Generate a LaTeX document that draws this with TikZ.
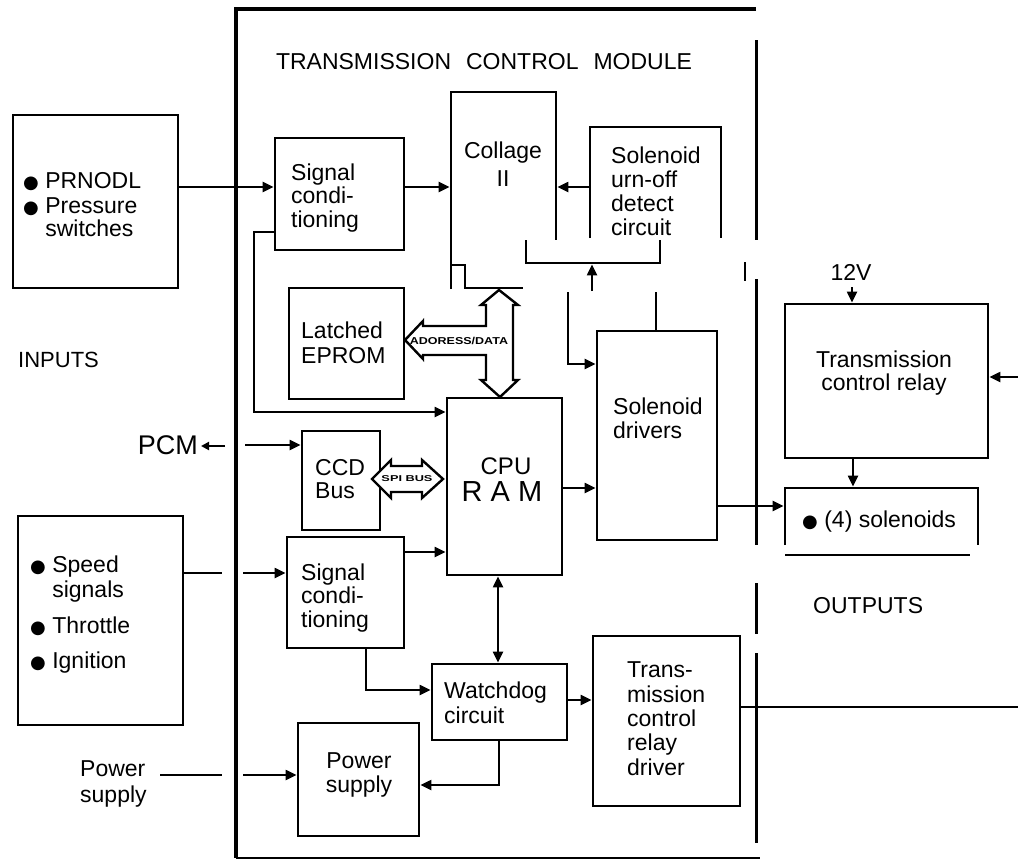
\documentclass[tikz,border=0pt]{standalone}
\usepackage{fontspec}
\setmainfont{Liberation Sans}
\newfontfamily\dejavu{DejaVu Sans}
\usetikzlibrary{arrows.meta}
\newcommand\bul{{\dejavu\fontsize{18}{18}\selectfont ●}}
\begin{document}
\begin{tikzpicture}[x=1pt,y=-1pt,
  boxline/.style={line width=2.9pt, line join=miter},
  box/.style={draw, boxline, inner sep=0pt},
  ghost/.style={inner sep=0pt, outer sep=1.45pt},
  conn/.style={line width=2.3pt},
  arr/.style={conn, -{Triangle[length=11pt,width=10pt]}},
  darr/.style={conn, {Triangle[length=11pt,width=10pt]}-{Triangle[length=11pt,width=10pt]}},
  txt/.style={inner sep=0pt, font=\fontsize{23}{23.5}\selectfont, align=left, anchor=base west},
  ctxt/.style={txt, align=center, anchor=base},
  bus/.style={draw, fill=white, line width=2.4pt, line join=miter},
  buslbl/.style={inner sep=0pt, font=\bfseries\fontsize{10}{10}\selectfont},
]
\useasboundingbox (0,0) rectangle (1018,862);

% module border
\draw[line width=3.8pt] (756,9) -- (236,9) -- (236,858);
\draw[line width=2.4pt] (236,858) -- (760,858);
\draw[line width=3pt] (756,40) -- (756,240);
\draw[line width=3pt] (756,279) -- (756,545);
\draw[line width=3pt] (756,583) -- (756,634);
\draw[line width=3pt] (756,653) -- (756,843);
\draw[line width=2.6pt] (745,262) -- (745,281);

% boxes
\node[box, minimum width=165pt, minimum height=173pt] (prn) at (95.5,201.5) {};
\node[box, minimum width=165pt, minimum height=209pt] (spd) at (100.5,620.5) {};
\node[box, minimum width=129pt, minimum height=112pt] (sc1) at (339.5,194) {};
\node[ghost, minimum width=105pt, minimum height=196pt] (col) at (503.5,190) {};
\node[ghost, minimum width=131pt, minimum height=111pt] (tod) at (655.5,182.5) {};
\node[box, minimum width=115pt, minimum height=111pt] (eprom) at (346.5,343.5) {};
\node[box, minimum width=115pt, minimum height=177pt] (cpu) at (504.5,486.5) {};
\node[box, minimum width=78pt, minimum height=99pt] (ccd) at (341,480.5) {};
\node[box, minimum width=120pt, minimum height=209pt] (sd) at (657,435.5) {};
\node[box, minimum width=117pt, minimum height=111pt] (sc2) at (345.5,592.5) {};
\node[box, minimum width=135pt, minimum height=76pt] (wd) at (499.5,702) {};
\node[box, minimum width=121pt, minimum height=113pt] (ps) at (358.5,779.5) {};
\node[box, minimum width=147pt, minimum height=170pt] (trd) at (666.5,721) {};
\node[box, minimum width=203pt, minimum height=154pt] (tcr) at (886.5,381) {};
\node[ghost, minimum width=193pt, minimum height=57pt] (sol) at (881.5,516.5) {};

% open outlines as printed
\draw[boxline] (451,289) -- (451,92) -- (556,92) -- (556,240);
\draw[boxline] (451,265) -- (465,265) -- (465,289);
\draw[boxline] (465,288) -- (523,288);
\draw[boxline] (590,238) -- (590,127) -- (721,127) -- (721,238);
\draw[boxline] (526,240) -- (526,263) -- (660,263) -- (660,240);
\draw[boxline] (785,545) -- (785,488) -- (978,488) -- (978,545);
\draw[boxline] (785,555) -- (970,555);

% buses
\draw[bus] (499,290) -- (518,305) -- (513,305) -- (513,380) -- (518,380) -- (500,397)
  -- (481,380) -- (486,380) -- (486,355) -- (423,355) -- (423,359) -- (405,340)
  -- (423,321) -- (423,326) -- (486,326) -- (486,305) -- (481,305) -- cycle;
\node[buslbl] (addrl) at (459,341) {\scalebox{1.25}[1]{ADORESS/DATA}};
\draw[bus] (372,479) -- (391,460) -- (391,466) -- (422,466) -- (422,460) -- (443,479)
  -- (422,498) -- (422,492) -- (391,492) -- (391,498) -- cycle;
\node[buslbl, font=\bfseries\fontsize{8.5}{8.5}\selectfont] (spil) at (407,479) {\scalebox{1.5}[1]{SPI BUS}};

% texts (multi-line nodes: base = baseline of last line)
\node[ctxt] (title) at (484,69) {TRANSMISSION\hspace{15pt}CONTROL\hspace{15pt}MODULE};
\node[txt, font=\fontsize{22}{22}\selectfont] (inputs) at (18,367) {INPUTS};
\node[txt] (outputs) at (813,613) {OUTPUTS};
\node[txt, anchor=base east, font=\fontsize{27}{27}\selectfont] (pcm) at (198,454) {PCM};
\node[ctxt] (v12) at (851,280) {12V};
\node[txt, font=\fontsize{23}{26}\selectfont] (pwrlbl) at (80,802) {Power\\supply};
\node[txt, font=\fontsize{23}{23}\selectfont] (tprn) at (23,236) {\bul\ PRNODL\\[2pt]\bul\ Pressure\\\hphantom{\bul\ }switches};
\node[txt, font=\fontsize{23}{25}\selectfont] (tspd) at (30,668) {\bul\ Speed\\\hphantom{\bul\ }signals\\[11pt]\bul\ Throttle\\[10pt]\bul\ Ignition};
\node[txt] (tsc1) at (291,227) {Signal\\condi-\\tioning};
\node[ctxt, font=\fontsize{23}{28}\selectfont] (tcol) at (503,186) {Collage\\II};
\node[txt, font=\fontsize{23}{24}\selectfont] (ttod) at (611,235) {Solenoid\\urn-off\\detect\\circuit};
\node[txt, font=\fontsize{23}{25}\selectfont] (tep) at (301,363) {Latched\\EPROM};
\node[ctxt, font=\fontsize{24}{24}\selectfont] (tcpu) at (506,474) {CPU};
\node[ctxt, font=\fontsize{29}{29}\selectfont] (tram) at (502,501) {R A M};
\node[txt] (tccd) at (315,498.5) {CCD\\Bus};
\node[txt, font=\fontsize{23}{24}\selectfont] (tsd) at (613,438) {Solenoid\\drivers};
\node[txt] (tsc2) at (301,627) {Signal\\condi-\\tioning};
\node[txt, font=\fontsize{23}{25}\selectfont] (twd) at (444,723) {Watchdog\\circuit};
\node[ctxt, font=\fontsize{23}{24}\selectfont] (tps) at (359,792) {Power\\supply};
\node[txt, font=\fontsize{23}{24.3}\selectfont] (ttrd) at (627,775) {Trans-\\mission\\control\\relay\\driver};
\node[ctxt] (ttcr) at (884,390.5) {Transmission\\control relay};
\node[txt] (tsol) at (802,527) {\bul\ (4) solenoids};

% connectors
\coordinate (ya) at (0,187);
\draw[arr] (prn.east |- ya) -- (sc1.west |- ya);
\draw[arr] (sc1.east |- ya) -- (col.west |- ya);
\draw[arr] (tod.west |- ya) -- (col.east |- ya);
\coordinate (lp1) at (254,232);
\coordinate (lp2) at (254,412);
\draw[arr] (sc1.west |- lp1) -- (lp1) -- (lp2) -- (cpu.west |- lp2);
\coordinate (pcmc) at (225,446);
\draw[conn, -{Triangle[length=8pt,width=8pt]}, shorten >=3pt] (pcmc) -- (pcm.east |- pcmc);
\coordinate (ccdin) at (245,445);
\draw[arr] (ccdin) -- (ccd.west |- ccdin);
\coordinate (s1) at (222,573);
\coordinate (s2) at (243,573);
\draw[conn] (spd.east |- s1) -- (s1);
\draw[arr] (s2) -- (sc2.west |- s2);
\coordinate (p1) at (222,775);
\coordinate (p2) at (243,775);
\draw[conn] (160,775) -- (p1);
\draw[arr] (p2) -- (ps.west |- p2);
\coordinate (yb) at (0,552);
\draw[arr] (sc2.east |- yb) -- (cpu.west |- yb);
\coordinate (w1) at (366,690);
\draw[arr] (sc2.south -| w1) -- (w1) -- (wd.west |- w1);
\coordinate (xc) at (498,0);
\draw[darr] (cpu.south -| xc) -- (wd.north -| xc);
\coordinate (yw) at (0,700);
\draw[arr] (wd.east |- yw) -- (trd.west |- yw);
\coordinate (w2) at (499,785);
\draw[arr] (wd.south -| w2) -- (w2) -- (ps.east |- w2);
\coordinate (yc) at (0,488);
\draw[arr] (cpu.east |- yc) -- (sd.west |- yc);
\coordinate (m1) at (568,292);
\coordinate (m2) at (568,364);
\draw[arr] (m1) -- (m2) -- (sd.west |- m2);
\coordinate (n1) at (656,292);
\draw[conn] (sd.north -| n1) -- (n1);
\coordinate (o1) at (592,291);
\coordinate (o2) at (592,263);
\draw[arr, shorten >=1.45pt] (o1) -- (o2);
\coordinate (yd) at (0,506);
\draw[arr] (sd.east |- yd) -- (sol.west |- yd);
\coordinate (xv) at (852,0);
\draw[arr, shorten <=7pt] (v12.base -| xv) -- (tcr.north -| xv);
\coordinate (xt) at (853,0);
\draw[arr] (tcr.south -| xt) -- (sol.north -| xt);
\coordinate (r1) at (1018,377);
\draw[arr] (r1) -- (tcr.east |- r1);
\coordinate (r2) at (1018,707);
\draw[conn] (trd.east |- r2) -- (r2);
\end{tikzpicture}
\end{document}
